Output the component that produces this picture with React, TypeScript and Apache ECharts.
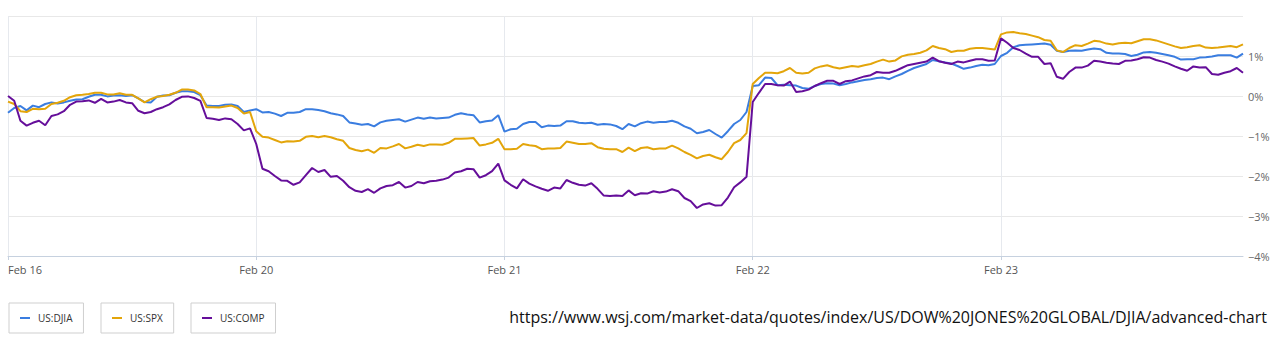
import React, { useEffect, useRef } from "react";
import * as echarts from "echarts";

const days = ["Feb 16", "Feb 20", "Feb 21", "Feb 22", "Feb 23"];
const pointsPerDay = 40;
const seriesNames = ["US:DJIA", "US:SPX", "US:COMP"];
const seriesColors = ["#3a7de0", "#e3a50a", "#650e9a"];
const yTicks = [-4, -3, -2, -1, 0, 1, 2];
const sourceUrl = "https://www.wsj.com/market-data/quotes/index/US/DOW%20JONES%20GLOBAL/DJIA/advanced-chart";

const djia = [
  -0.42, -0.30, -0.25, -0.36, -0.24, -0.28, -0.20, -0.16, -0.19, -0.16,
  -0.12, -0.09, -0.08, -0.02, 0.03, 0.03, -0.01, 0.01, 0.02, 0.0,
  0.02, -0.06, -0.15, -0.16, -0.02, 0.01, 0.02, 0.08, 0.12, 0.12,
  0.10, 0.02, -0.24, -0.25, -0.25, -0.22, -0.21, -0.25, -0.40, -0.36,
  -0.33, -0.41, -0.40, -0.44, -0.50, -0.42, -0.42, -0.40, -0.33, -0.33,
  -0.35, -0.38, -0.43, -0.46, -0.50, -0.66, -0.69, -0.72, -0.70, -0.76,
  -0.66, -0.62, -0.60, -0.58, -0.64, -0.59, -0.54, -0.57, -0.54, -0.56,
  -0.55, -0.54, -0.47, -0.43, -0.46, -0.48, -0.66, -0.63, -0.61, -0.48,
  -0.89, -0.83, -0.82, -0.70, -0.65, -0.65, -0.78, -0.74, -0.75, -0.74,
  -0.63, -0.63, -0.67, -0.68, -0.67, -0.72, -0.70, -0.71, -0.75, -0.83,
  -0.70, -0.76, -0.68, -0.64, -0.67, -0.65, -0.65, -0.62, -0.67, -0.76,
  -0.82, -0.93, -0.90, -0.85, -0.95, -1.04, -0.88, -0.70, -0.60, -0.40,
  0.25, 0.27, 0.46, 0.45, 0.27, 0.28, 0.27, 0.26, 0.20, 0.18,
  0.25, 0.30, 0.32, 0.31, 0.27, 0.30, 0.34, 0.37, 0.40, 0.42,
  0.45, 0.46, 0.42, 0.49, 0.55, 0.63, 0.70, 0.75, 0.80, 0.90,
  0.87, 0.84, 0.81, 0.75, 0.68, 0.71, 0.75, 0.78, 0.77, 0.80,
  1.00, 1.08, 1.22, 1.27, 1.28, 1.29, 1.30, 1.31, 1.28, 1.13,
  1.10, 1.13, 1.14, 1.13, 1.16, 1.19, 1.17, 1.08, 1.06, 1.06,
  1.05, 1.00, 1.03, 1.09, 1.10, 1.08, 1.05, 1.02, 0.98, 0.91,
  0.92, 0.92, 0.96, 0.97, 0.99, 1.02, 1.02, 1.02, 0.96, 1.06,
];

const spx = [
  -0.14, -0.20, -0.38, -0.40, -0.32, -0.33, -0.32, -0.20, -0.17, -0.12,
  -0.03, 0.02, 0.03, 0.05, 0.08, 0.08, 0.04, 0.04, 0.07, 0.03,
  0.03, -0.06, -0.16, -0.08, -0.02, 0.0, 0.03, 0.08, 0.16, 0.16,
  0.14, 0.05, -0.28, -0.28, -0.29, -0.26, -0.24, -0.30, -0.44, -0.40,
  -0.88, -1.02, -1.04, -1.10, -1.16, -1.13, -1.14, -1.12, -1.02, -1.00,
  -1.03, -1.00, -1.03, -1.08, -1.12, -1.30, -1.35, -1.38, -1.34, -1.42,
  -1.30, -1.31, -1.26, -1.20, -1.31, -1.27, -1.22, -1.25, -1.21, -1.21,
  -1.22, -1.17, -1.07, -1.07, -1.06, -1.05, -1.24, -1.21, -1.17, -1.07,
  -1.33, -1.33, -1.32, -1.20, -1.23, -1.25, -1.33, -1.31, -1.31, -1.30,
  -1.14, -1.17, -1.20, -1.20, -1.18, -1.28, -1.32, -1.33, -1.33, -1.40,
  -1.29, -1.38, -1.30, -1.28, -1.33, -1.31, -1.31, -1.24, -1.31, -1.40,
  -1.47, -1.56, -1.50, -1.47, -1.53, -1.58, -1.40, -1.18, -1.10, -0.93,
  0.30, 0.45, 0.58, 0.58, 0.57, 0.62, 0.70, 0.58, 0.56, 0.58,
  0.69, 0.74, 0.77, 0.72, 0.69, 0.72, 0.75, 0.73, 0.77, 0.80,
  0.86, 0.91, 0.86, 0.89, 0.99, 1.03, 1.05, 1.08, 1.14, 1.25,
  1.20, 1.17, 1.10, 1.13, 1.13, 1.18, 1.20, 1.20, 1.18, 1.16,
  1.54, 1.59, 1.60, 1.57, 1.55, 1.51, 1.47, 1.40, 1.38, 1.14,
  1.10, 1.20, 1.27, 1.25, 1.31, 1.38, 1.36, 1.31, 1.29, 1.32,
  1.33, 1.32, 1.37, 1.42, 1.42, 1.39, 1.34, 1.29, 1.24, 1.20,
  1.22, 1.25, 1.27, 1.21, 1.20, 1.21, 1.23, 1.25, 1.22, 1.29,
];

const comp = [
  0.0, -0.12, -0.62, -0.74, -0.67, -0.62, -0.73, -0.50, -0.46, -0.38,
  -0.22, -0.14, -0.13, -0.11, -0.17, -0.07, -0.16, -0.14, -0.10, -0.16,
  -0.18, -0.37, -0.43, -0.40, -0.33, -0.28, -0.21, -0.10, -0.02, -0.01,
  -0.05, -0.12, -0.55, -0.57, -0.60, -0.56, -0.58, -0.70, -0.86, -0.81,
  -1.20, -1.82, -1.88, -2.00, -2.11, -2.12, -2.22, -2.16, -1.98, -1.80,
  -1.90, -1.85, -2.02, -2.00, -2.12, -2.28, -2.37, -2.40, -2.33, -2.42,
  -2.31, -2.25, -2.23, -2.15, -2.29, -2.25, -2.15, -2.18, -2.13, -2.12,
  -2.09, -2.04, -1.91, -1.88, -1.82, -1.83, -2.04, -1.98, -1.88, -1.69,
  -2.11, -2.22, -2.31, -2.08, -2.19, -2.26, -2.32, -2.37, -2.29, -2.31,
  -2.10, -2.17, -2.22, -2.24, -2.18, -2.32, -2.49, -2.50, -2.49, -2.50,
  -2.36, -2.48, -2.43, -2.44, -2.38, -2.41, -2.39, -2.33, -2.38, -2.55,
  -2.63, -2.80, -2.71, -2.68, -2.74, -2.73, -2.54, -2.28, -2.16, -2.02,
  -0.15, 0.08, 0.30, 0.30, 0.27, 0.26, 0.36, 0.10, 0.12, 0.16,
  0.25, 0.32, 0.38, 0.38, 0.30, 0.37, 0.39, 0.44, 0.49, 0.52,
  0.60, 0.58, 0.58, 0.63, 0.70, 0.77, 0.80, 0.83, 0.86, 0.96,
  0.87, 0.83, 0.80, 0.86, 0.84, 0.88, 0.92, 0.92, 0.88, 0.89,
  1.44, 1.33, 1.20, 1.15, 1.06, 0.98, 0.98, 0.80, 0.82, 0.48,
  0.43, 0.60, 0.71, 0.71, 0.76, 0.88, 0.86, 0.83, 0.81, 0.80,
  0.88, 0.89, 0.92, 0.97, 0.96, 0.90, 0.86, 0.81, 0.74, 0.68,
  0.63, 0.74, 0.71, 0.72, 0.55, 0.53, 0.58, 0.62, 0.70, 0.58,
];

const seriesValues = [djia, spx, comp];
const legendLefts = [9, 101, 191];

export default function App() {
  const ref = useRef<HTMLDivElement>(null);

  useEffect(() => {
    if (!ref.current) return;
    const chart = echarts.init(ref.current, null, { renderer: "svg" });

    const categories: string[] = [];
    days.forEach((d) => {
      for (let k = 0; k < pointsPerDay; k++) categories.push(d + "|" + k);
    });
    const isDayStart = (index: number) => index % pointsPerDay === 0;
    const fmtPct = (v: number) => (v < 0 ? "\u2212" + Math.abs(v) + "%" : v + "%");

    chart.setOption({
      animation: false,
      backgroundColor: "#ffffff",
      grid: { left: 8, right: 34, top: 16, bottom: 94, containLabel: false },
      xAxis: {
        type: "category",
        data: categories,
        boundaryGap: false,
        axisLine: { show: true, onZero: false, lineStyle: { color: "#c6d1df", width: 1 } },
        axisTick: { show: true, interval: (i: number) => isDayStart(i), length: 4, lineStyle: { color: "#c6d1df" } },
        axisLabel: {
          interval: (i: number) => isDayStart(i),
          formatter: (v: string) => v.split("|")[0],
          color: "#555",
          fontSize: 11,
          fontFamily: "Open Sans",
          margin: 8,
          alignMinLabel: "left",
        },
        splitLine: { show: true, interval: (i: number) => isDayStart(i), lineStyle: { color: "#e6e9ee", width: 1 } },
      },
      yAxis: {
        type: "value",
        position: "right",
        min: yTicks[0],
        max: yTicks[yTicks.length - 1],
        interval: 1,
        axisLine: { show: false },
        axisTick: { show: false },
        axisLabel: {
          formatter: (v: number) => (v === yTicks[yTicks.length - 1] ? "" : fmtPct(v)),
          color: "#666",
          fontSize: 11,
          fontFamily: "Open Sans",
          margin: 5,
        },
        splitLine: { show: true, lineStyle: { color: "#e8e8e8", width: 1 } },
      },
      legend: seriesNames.map((name, k) => ({
        data: [name],
        left: legendLefts[k],
        top: 303,
        orient: "horizontal",
        borderColor: "#cfcfcf",
        borderWidth: 1,
        borderRadius: 0,
        padding: [10, 11, 10, 11],
        icon: "rect",
        itemWidth: 10,
        itemHeight: 2,
        itemGap: 0,
        selectedMode: false,
        textStyle: { fontSize: 10, color: "#333", fontFamily: "Open Sans", padding: [0, 0, 0, 3] },
      })),
      graphic: [
        {
          type: "text",
          right: 10,
          top: 309,
          style: { text: sourceUrl, font: '16px "Open Sans"', fill: "#111" },
        },
      ],
      series: seriesNames.map((name, k) => ({
        name,
        type: "line",
        data: seriesValues[k],
        showSymbol: false,
        symbol: "none",
        lineStyle: { width: 2, color: seriesColors[k] },
        itemStyle: { color: seriesColors[k] },
        z: 2 + k,
      })),
    });

    return () => chart.dispose();
  }, []);

  return <div ref={ref} style={{ position: "absolute", left: 0, top: 0, width: 1277, height: 350 }} />;
}
